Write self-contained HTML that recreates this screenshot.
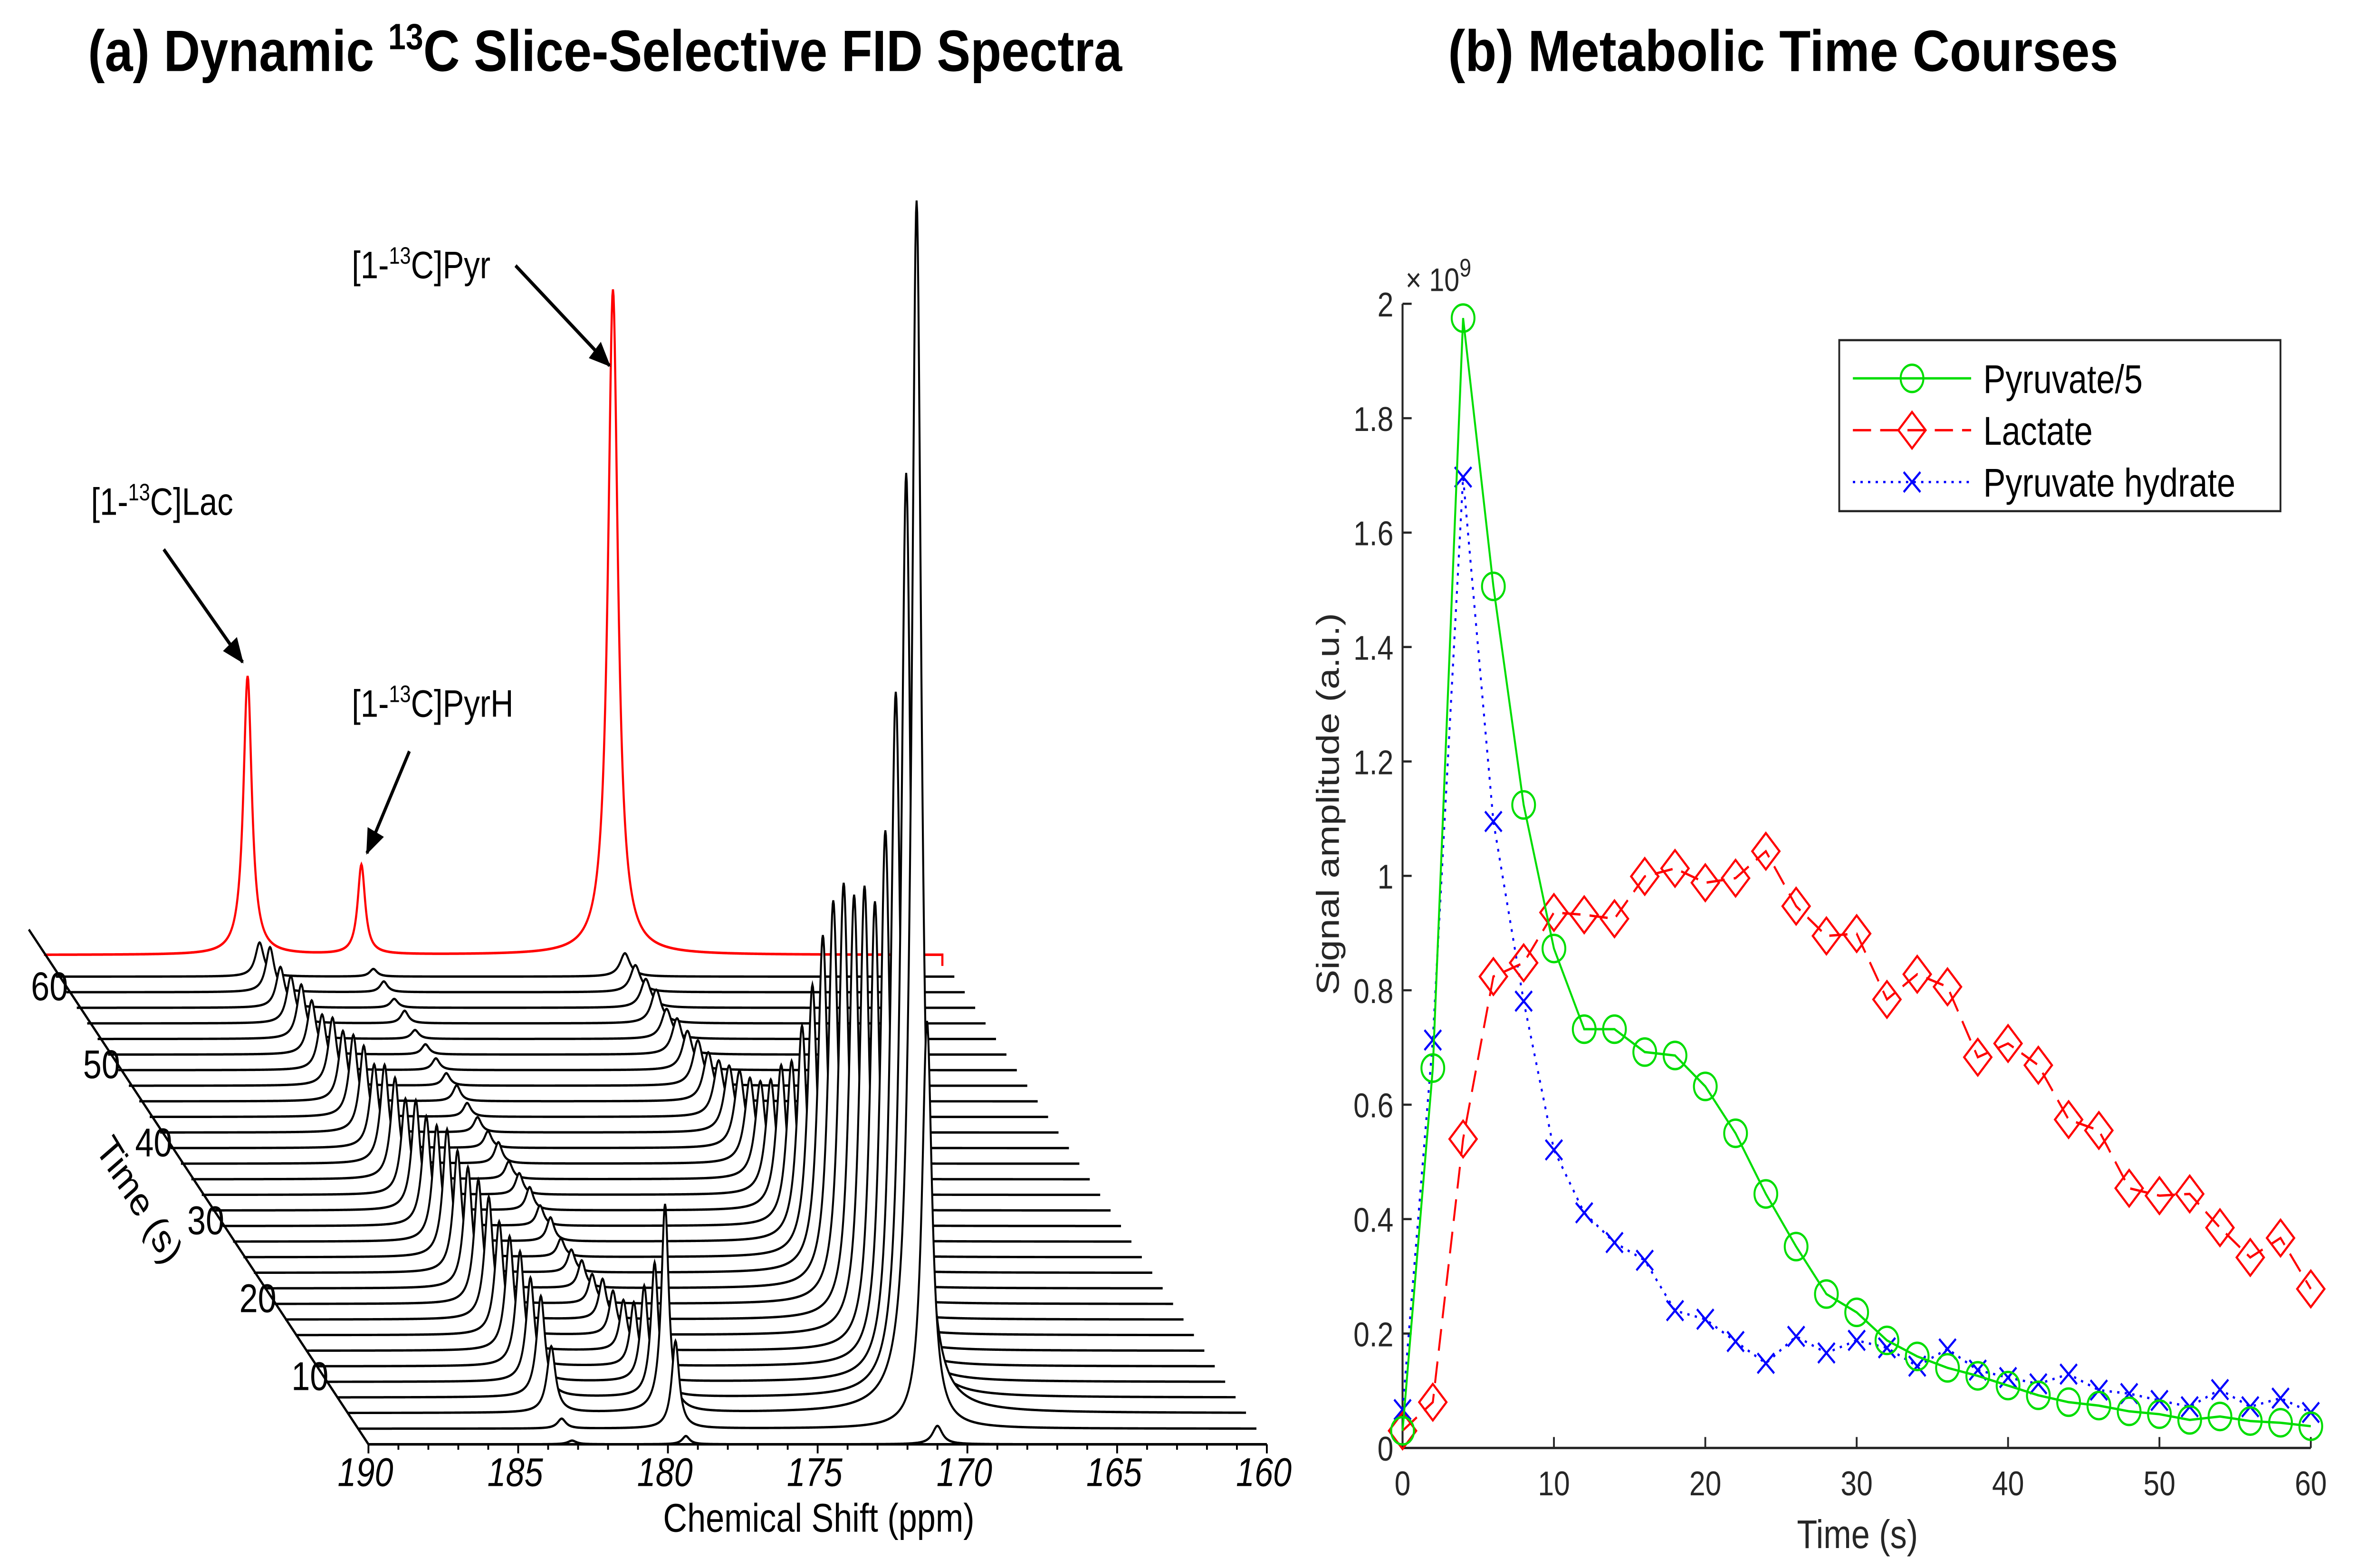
<!DOCTYPE html>
<html><head><meta charset="utf-8"><style>
html,body{margin:0;padding:0;background:#fff;width:100%;height:100%;overflow:hidden;}
svg{display:block;position:absolute;left:0;top:0;width:100vw;height:100vh;}
text{font-family:"Liberation Sans",Arial,sans-serif;}
</style></head><body>
<svg id="fig" xmlns="http://www.w3.org/2000/svg" viewBox="0 0 1567 862" preserveAspectRatio="none">
<rect width="1567" height="862" fill="#fff"/>
<text x="58" y="39" font-size="32" font-weight="bold" textLength="682" lengthAdjust="spacingAndGlyphs">(a) Dynamic <tspan font-size="20" dy="-12">13</tspan><tspan dy="12">C Slice-Selective FID Spectra</tspan></text>
<text x="955" y="39" font-size="32" font-weight="bold" textLength="442" lengthAdjust="spacingAndGlyphs">(b) Metabolic Time Courses</text>
<g id="waterfall"></g>
<g id="annot">
<defs>
<marker id="ah2" markerWidth="14" markerHeight="12" refX="13" refY="6" orient="auto" markerUnits="userSpaceOnUse" viewBox="0 0 14 12"><path d="M0,0 L14,6 L0,12 z" fill="#000"/></marker></defs>
<text x="232" y="153" font-size="21">[1-<tspan font-size="13" dy="-8">13</tspan><tspan dy="8">C]Pyr</tspan></text>
<line x1="340" y1="146" x2="402" y2="201" stroke="#000" stroke-width="2" marker-end="url(#ah2)"/>
<text x="60" y="283" font-size="21">[1-<tspan font-size="13" dy="-8">13</tspan><tspan dy="8">C]Lac</tspan></text>
<line x1="108" y1="302" x2="160" y2="364" stroke="#000" stroke-width="2" marker-end="url(#ah2)"/>
<text x="232" y="394" font-size="21">[1-<tspan font-size="13" dy="-8">13</tspan><tspan dy="8">C]PyrH</tspan></text>
<line x1="270" y1="413" x2="242" y2="469" stroke="#000" stroke-width="2" marker-end="url(#ah2)"/>
</g>
<g id="tc"></g>
</svg>
<script>
// ---- Panel (b) data ----
const times = [0,2,4,6,8,10,12,14,16,18,20,22,24,26,28,30,32,34,36,38,40,42,44,46,48,50,52,54,56,58,60];
const pyruvate = [0.03,0.664,1.975,1.506,1.124,0.873,0.732,0.732,0.692,0.686,0.632,0.55,0.444,0.352,0.269,0.237,0.188,0.16,0.14,0.126,0.109,0.092,0.08,0.074,0.064,0.059,0.049,0.055,0.047,0.044,0.038];
const lactate = [0.03,0.08,0.54,0.824,0.848,0.936,0.932,0.925,0.999,1.013,0.988,0.996,1.043,0.947,0.895,0.899,0.784,0.828,0.806,0.683,0.707,0.669,0.574,0.555,0.454,0.441,0.444,0.385,0.333,0.367,0.278];
const hydrate = [0.067,0.713,1.697,1.095,0.781,0.521,0.411,0.359,0.328,0.24,0.225,0.186,0.148,0.195,0.166,0.188,0.175,0.143,0.173,0.136,0.123,0.112,0.129,0.101,0.095,0.083,0.072,0.102,0.072,0.087,0.062];
const yTicks = [0,0.2,0.4,0.6,0.8,1,1.2,1.4,1.6,1.8,2];
const yTickLabels = ["0","0.2","0.4","0.6","0.8","1","1.2","1.4","1.6","1.8","2"];
const xTicks = [0,10,20,30,40,50,60];
const legendLabels = ["Pyruvate/5","Lactate","Pyruvate hydrate"];
// ---- Panel (a) data ----
const ppmTicks = [190,185,180,175,170,165,160];
const timeTicks = [10,20,30,40,50,60];
const peakPPM = [171.0,183.2,179.4]; // pyruvate, lactate, hydrate
const pyrScale = [5];
const redPeaks = [5.42,2.27,0.73]; // summed spectrum amplitudes (pyr, lac, hyd)

const NS="http://www.w3.org/2000/svg";
function mk(tag,attrs,parent){const e=document.createElementNS(NS,tag);for(const k in attrs)e.setAttribute(k,attrs[k]);parent.appendChild(e);return e;}

// ===== Panel (b) =====
const tc=document.getElementById('tc');
const X0=925,X1=1524,Y0=796,Y1=167;
const xs=t=>X0+(t-0)/(60-0)*(X1-X0);
const ys=v=>Y0-(v-0)/(2-0)*(Y0-Y1);
let ax=mk('line',{x1:X0,y1:Y0,x2:X1,y2:Y0,stroke:'#262626','stroke-width':1.3},tc);


let ay=mk('line',{x1:X0,y1:Y0,x2:X0,y2:Y1,stroke:'#262626','stroke-width':1.3},tc);


yTicks.forEach((v,i)=>{
  const tk=mk('line',{x1:X0,y1:ys(v),x2:X0+6,y2:ys(v),stroke:'#262626','stroke-width':1.2},tc);
  
  
  const tl=mk('text',{x:X0-6,y:ys(v)+7,'font-size':19,'text-anchor':'end',fill:'#262626'},tc);
  tl.textContent=yTickLabels[i];
  
  
});
xTicks.forEach(t=>{
  const tk=mk('line',{x1:xs(t),y1:Y0,x2:xs(t),y2:Y0-6,stroke:'#262626','stroke-width':1.2},tc);
  
  
  const tl=mk('text',{x:xs(t),y:Y0+26,'font-size':19,'text-anchor':'middle',fill:'#262626'},tc);
  tl.textContent=String(t);
  
  
});
let xt=mk('text',{x:1225,y:851,'font-size':22,'text-anchor':'middle',fill:'#262626'},tc);
xt.textContent='Time (s)';


let yt=mk('text',{x:0,y:0,'font-size':21,'text-anchor':'middle',fill:'#262626',transform:'translate(883,442) rotate(-90)'},tc);
yt.textContent='Signal amplitude (a.u.)';


let ex=mk('text',{x:927,y:160,'font-size':18,fill:'#262626'},tc);
ex.innerHTML='× 10<tspan font-size="14" dy="-8">9</tspan>';



function marker(kind,x,y,color,g){
  let m;
  if(kind==='o') m=mk('circle',{cx:x,cy:y,r:7.5,fill:'none',stroke:color,'stroke-width':1.3},g);
  else if(kind==='d') m=mk('path',{d:`M${x},${y-10}L${x+9},${y}L${x},${y+10}L${x-9},${y}Z`,fill:'none',stroke:color,'stroke-width':1.3},g);
  else m=mk('path',{d:`M${x-5.5},${y-5.5}L${x+5.5},${y+5.5}M${x-5.5},${y+5.5}L${x+5.5},${y-5.5}`,fill:'none',stroke:color,'stroke-width':1.3},g);
  return m;
}
const series=[
  {vals:pyruvate,color:'#00dd00',dash:'',mk:'o',name:'series-pyruvate'},
  {vals:lactate,color:'#ff0000',dash:'12 6',mk:'d',name:'series-lactate'},
  {vals:hydrate,color:'#0000ff',dash:'1.5 3.5',mk:'x',name:'series-hydrate'}
];
series.slice().reverse().forEach(s=>{
  const g=mk('g',{},tc);
  
  
  const pts=times.map((t,i)=>xs(t)+','+ys(s.vals[i])).join(' ');
  const pl=mk('polyline',{points:pts,fill:'none',stroke:s.color,'stroke-width':1.3,'stroke-dasharray':s.dash},g);
  
  
  times.forEach((t,i)=>{
    const m=marker(s.mk,xs(t),ys(s.vals[i]),s.color,g);
    
    
  });
});
// legend
const lg=mk('g',{},tc);


let lb=mk('rect',{x:1213,y:187,width:291,height:94,fill:'#fff',stroke:'#262626','stroke-width':1.2},lg);


series.forEach((s,i)=>{
  const y=208+i*28.5;
  const e=mk('g',{},lg);
  
  
  mk('line',{x1:1222,y1:y,x2:1300,y2:y,stroke:s.color,'stroke-width':1.3,'stroke-dasharray':s.dash},e);
  marker(s.mk,1261,y,s.color,e);
  const t=mk('text',{x:1308,y:y+8,'font-size':22,fill:'#000'},e);
  t.textContent=legendLabels[i];
});

// ===== Panel (a) waterfall =====
const wf=document.getElementById('waterfall');
const CX0=243,CY0=794;
const PXPPM=19.75;
const DX=-6.87/2,DY=-8.57/2;
const K=67.5;
const HW=[0.2,0.17,0.15];
const ppmX=p=>(190-p)*PXPPM;
function lor(p,c,w){const d=(p-c)/w;return 1/(1+d*d);}
function traceD(cx,cy,amps){
  let d='';
  for(let p=190;p>=159.999;p-=0.02){
    let h=0;
    for(let k=0;k<3;k++) h+=amps[k]*K*lor(p,peakPPM[k],HW[k]);
    const x=cx+ppmX(p), y=cy-h;
    d+=(d?'L':'M')+x.toFixed(2)+','+y.toFixed(2);
  }
  return d;
}
{
  const cx=29,cy=525;
  const d=traceD(cx,cy,redPeaks);
  const r=mk('path',{d:d+`L${cx+ppmX(160)},${cy+6}`,fill:'none',stroke:'#ff0000','stroke-width':1.4},wf);
  
  
}
let tal=mk('line',{x1:19,y1:511,x2:CX0,y2:CY0,stroke:'#000','stroke-width':1.4},wf);


for(let i=times.length-1;i>=0;i--){
  const t=times[i];
  const cx=CX0+DX*t, cy=CY0+DY*t;
  const amps=[pyruvate[i]*pyrScale[0],lactate[i],hydrate[i]];
  const d=traceD(cx,cy,amps);
  const f=mk('path',{d:d+`L${cx+ppmX(160)},${cy}L${cx},${cy}Z`,fill:'#fff',stroke:'none'},wf);
  
  
  const l=mk('path',{d:d,fill:'none',stroke:'#000','stroke-width':1.3},wf);
  
  
}
let pa=mk('line',{x1:CX0,y1:CY0,x2:CX0+ppmX(160),y2:CY0,stroke:'#000','stroke-width':1.4},wf);


for(let p=190;p>=160;p-=1){
  const major=(p%5===0);
  mk('line',{x1:CX0+ppmX(p),y1:CY0,x2:CX0+ppmX(p),y2:CY0+(major?5:3),stroke:'#000','stroke-width':1.2},wf);
}
ppmTicks.forEach(p=>{
  const tl=mk('text',{x:CX0+ppmX(p)-2,y:CY0+23,'font-size':22,'font-style':'italic','text-anchor':'middle'},wf);
  tl.textContent=String(p);
  
  
});
let pt=mk('text',{x:540,y:842,'font-size':22,'text-anchor':'middle'},wf);
pt.textContent='Chemical Shift (ppm)';


timeTicks.forEach(t=>{
  const cx=CX0+DX*t, cy=CY0+DY*t;
  const tl=mk('text',{x:cx+8,y:cy+13,'font-size':22,'text-anchor':'end'},wf);
  tl.textContent=String(t);
  
  
});
let tt=mk('text',{x:0,y:0,'font-size':22,'text-anchor':'middle',transform:'translate(86,664) rotate(54)'},wf);
tt.textContent='Time (s)';


</script>
</body></html>
